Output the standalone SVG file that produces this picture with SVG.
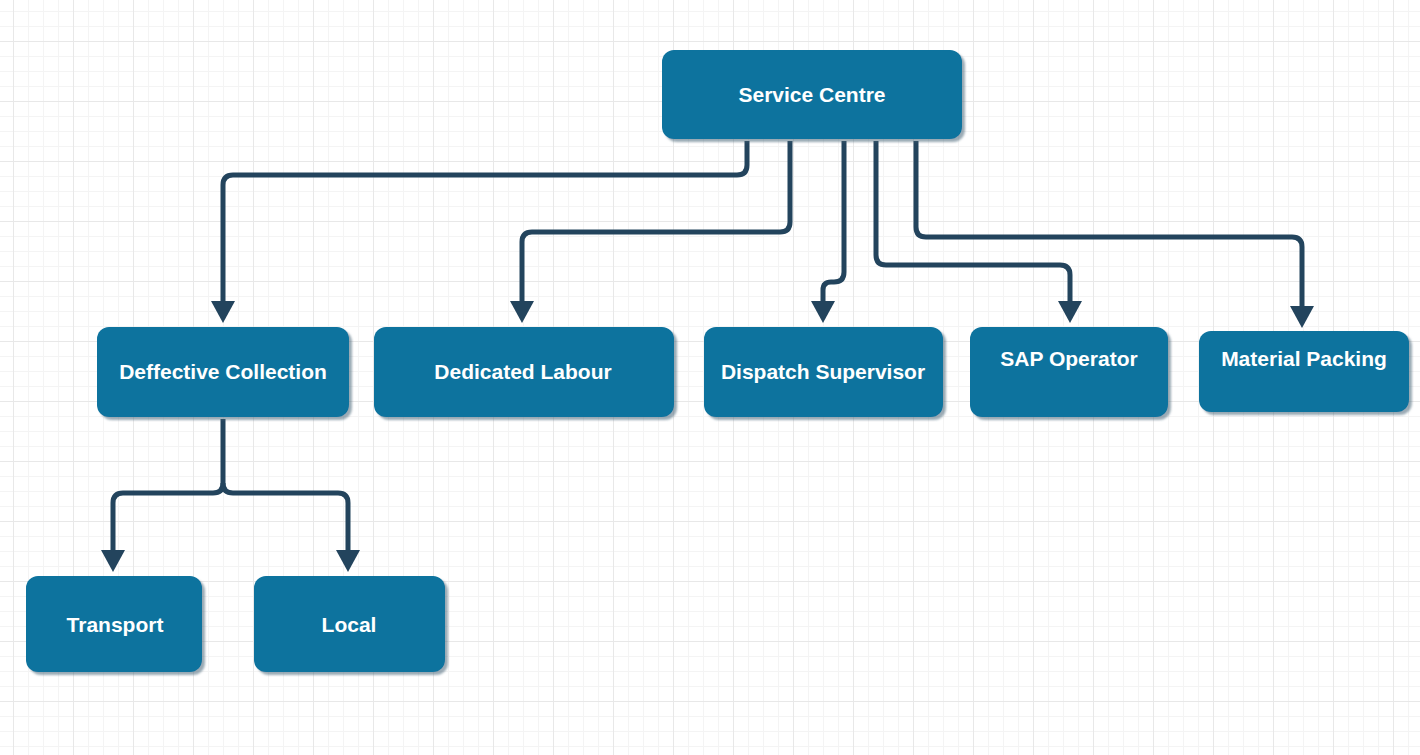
<svg xmlns="http://www.w3.org/2000/svg" width="1420" height="755" viewBox="0 0 1420 755">
<style>
.node rect{fill:#10739e;filter:url(#sh)}
.node text{fill:#ffffff;font-family:"Liberation Sans",Arial,sans-serif;font-weight:bold;font-size:21px;text-anchor:middle}
.conn path{fill:none;stroke:#23445d;stroke-width:5;marker-end:url(#arr)}
</style>
<defs>
<pattern id="minor" patternUnits="userSpaceOnUse" x="13" y="41" width="15" height="15">
<path d="M0,0.5 H15 M0.5,0 V15" stroke="#f4f4f4" stroke-width="1" fill="none"/>
</pattern>
<pattern id="major" patternUnits="userSpaceOnUse" x="13" y="41" width="60" height="60">
<path d="M0,0.5 H60 M0.5,0 V60" stroke="#e8e8e8" stroke-width="1" fill="none"/>
</pattern>
<filter id="sh" x="-10%" y="-10%" width="130%" height="140%">
<feDropShadow dx="3" dy="3" stdDeviation="1.2" flood-color="#4a6478" flood-opacity="0.55"/>
</filter>
<marker id="arr" markerUnits="userSpaceOnUse" markerWidth="22" markerHeight="24" refX="1" refY="12" orient="auto" viewBox="0 0 22 24">
<path d="M0,0 L22,12 L0,24 z" fill="#23445d"/>
</marker>
</defs>
<rect width="1420" height="755" fill="#ffffff"/>
<rect width="1420" height="755" fill="url(#minor)"/>
<rect width="1420" height="755" fill="url(#major)"/>
<g id="connectors" class="conn">
<path d="M747,141 V165 Q747,175 737,175 H233 Q223,175 223,185 V302"/>
<path d="M790,141 V222 Q790,232 780,232 H532 Q522,232 522,242 V302"/>
<path d="M844,141 V272 Q844,282 834,282 H831 Q823,282 823,290 V302"/>
<path d="M876,141 V255 Q876,265 886,265 H1060 Q1070,265 1070,275 V302"/>
<path d="M916,141 V227 Q916,237 926,237 H1292 Q1302,237 1302,247 V307"/>
<path d="M223,419 V483 Q223,493 213,493 H123 Q113,493 113,503 V551"/>
<path d="M223,483 Q223,493 233,493 H338 Q348,493 348,503 V551"/>
</g>
<g id="service-centre" class="node"><rect x="662" y="50" width="300" height="89" rx="12"/><text x="812" y="102">Service Centre</text></g>
<g id="deffective-collection" class="node"><rect x="97" y="327" width="252" height="90" rx="12"/><text x="223" y="379">Deffective Collection</text></g>
<g id="dedicated-labour" class="node"><rect x="374" y="327" width="300" height="90" rx="12"/><text x="523" y="379">Dedicated Labour</text></g>
<g id="dispatch-supervisor" class="node"><rect x="704" y="327" width="239" height="90" rx="12"/><text x="823" y="379">Dispatch Supervisor</text></g>
<g id="sap-operator" class="node"><rect x="970" y="327" width="198" height="90" rx="12"/><text x="1069" y="366">SAP Operator</text></g>
<g id="material-packing" class="node"><rect x="1199" y="331" width="210" height="81" rx="12"/><text x="1304" y="366">Material Packing</text></g>
<g id="transport" class="node"><rect x="26" y="576" width="176" height="96" rx="12"/><text x="115" y="632">Transport</text></g>
<g id="local" class="node"><rect x="254" y="576" width="191" height="96" rx="12"/><text x="349" y="632">Local</text></g>
</svg>
